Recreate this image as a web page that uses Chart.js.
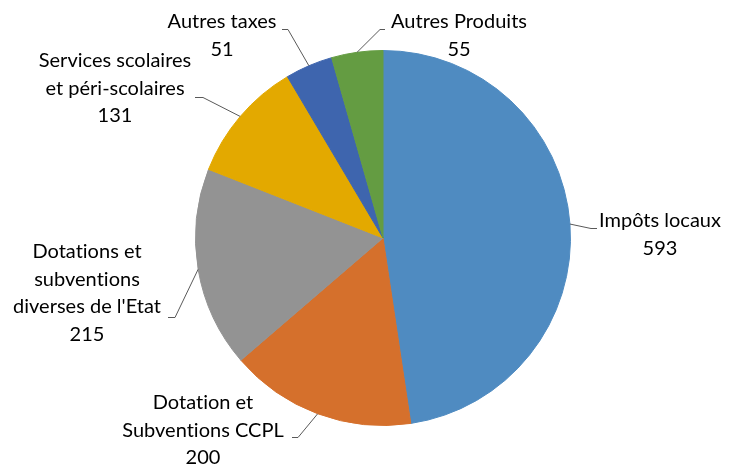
<!DOCTYPE html>
<html><head><meta charset="utf-8">
<script src="https://cdn.jsdelivr.net/npm/chart.js@4/dist/chart.umd.min.js"></script>
<style>html,body{margin:0;padding:0;background:#fff}#wrap{width:730px;height:467px}</style>
</head><body><div id="wrap"><canvas id="c" width="730" height="467"></canvas></div>
<script>
const categories = ["Impôts locaux", "Dotation et Subventions CCPL", "Dotations et subventions diverses de l'Etat", "Services scolaires et péri-scolaires", "Autres taxes", "Autres Produits"];
const values = [593, 200, 215, 131, 51, 55];
const labelLines = [["Impôts locaux"], ["Dotation et", "Subventions CCPL"], ["Dotations et", "subventions", "diverses de l'Etat"], ["Services scolaires", "et péri-scolaires"], ["Autres taxes"], ["Autres Produits"]];
const colors = ["#4F8BC1", "#D5702C", "#939393", "#E3A900", "#3E65AE", "#649C42"];

// label layout: text centre x, first line y, horizontal leader segment (x1->x2 at y)
const layout = [
  {cx: 660, y: 221, hx1: 597, hx2: 591, hy: 228},
  {cx: 203, y: 403, hx1: 292, hx2: 298, hy: 437},
  {cx: 87,  y: 252, hx1: 168, hx2: 175, hy: 317},
  {cx: 115, y: 61,  hx1: 195, hx2: 203, hy: 97},
  {cx: 222, y: 22,  hx1: 282, hx2: 288, hy: 29},
  {cx: 459, y: 22,  hx1: 385, hx2: 380, hy: 29}
];
const lineH = 27.4;

const labelPlugin = {
  id: 'outLabels',
  afterDatasetsDraw(chart) {
    const ctx = chart.ctx;
    const meta = chart.getDatasetMeta(0);
    ctx.save();
    meta.data.forEach((arc, i) => {
      const p = arc.getProps(['x','y','startAngle','endAngle','outerRadius'], true);
      const mid = (p.startAngle + p.endAngle) / 2;
      const ax = p.x + Math.cos(mid) * p.outerRadius;
      const ay = p.y + Math.sin(mid) * p.outerRadius;
      const L = layout[i];
      ctx.strokeStyle = '#595959';
      ctx.lineWidth = 1;
      ctx.beginPath();
      ctx.moveTo(ax, ay);
      ctx.lineTo(L.hx2, L.hy + 0.5);
      ctx.lineTo(L.hx1, L.hy + 0.5);
      ctx.stroke();
      const lines = labelLines[i].concat([String(values[i])]);
      ctx.fillStyle = '#000';
      ctx.font = '20px Lato, "Open Sans", sans-serif';
      if ('letterSpacing' in ctx) ctx.letterSpacing = '0.01px';
      ctx.textAlign = 'center';
      ctx.textBaseline = 'middle';
      lines.forEach((t, k) => ctx.fillText(t, L.cx, L.y + k * lineH));
    });
    ctx.restore();
  }
};

new Chart(document.getElementById('c'), {
  type: 'pie',
  data: {
    labels: categories,
    datasets: [{
      data: values,
      backgroundColor: colors,
      borderColor: colors,
      borderWidth: 1
    }]
  },
  options: {
    responsive: false,
    animation: false,
    layout: {padding: {left: 195, right: 159, top: 50, bottom: 41}},
    plugins: {legend: {display: false}, tooltip: {enabled: false}}
  },
  plugins: [labelPlugin]
});
</script>
</body></html>
